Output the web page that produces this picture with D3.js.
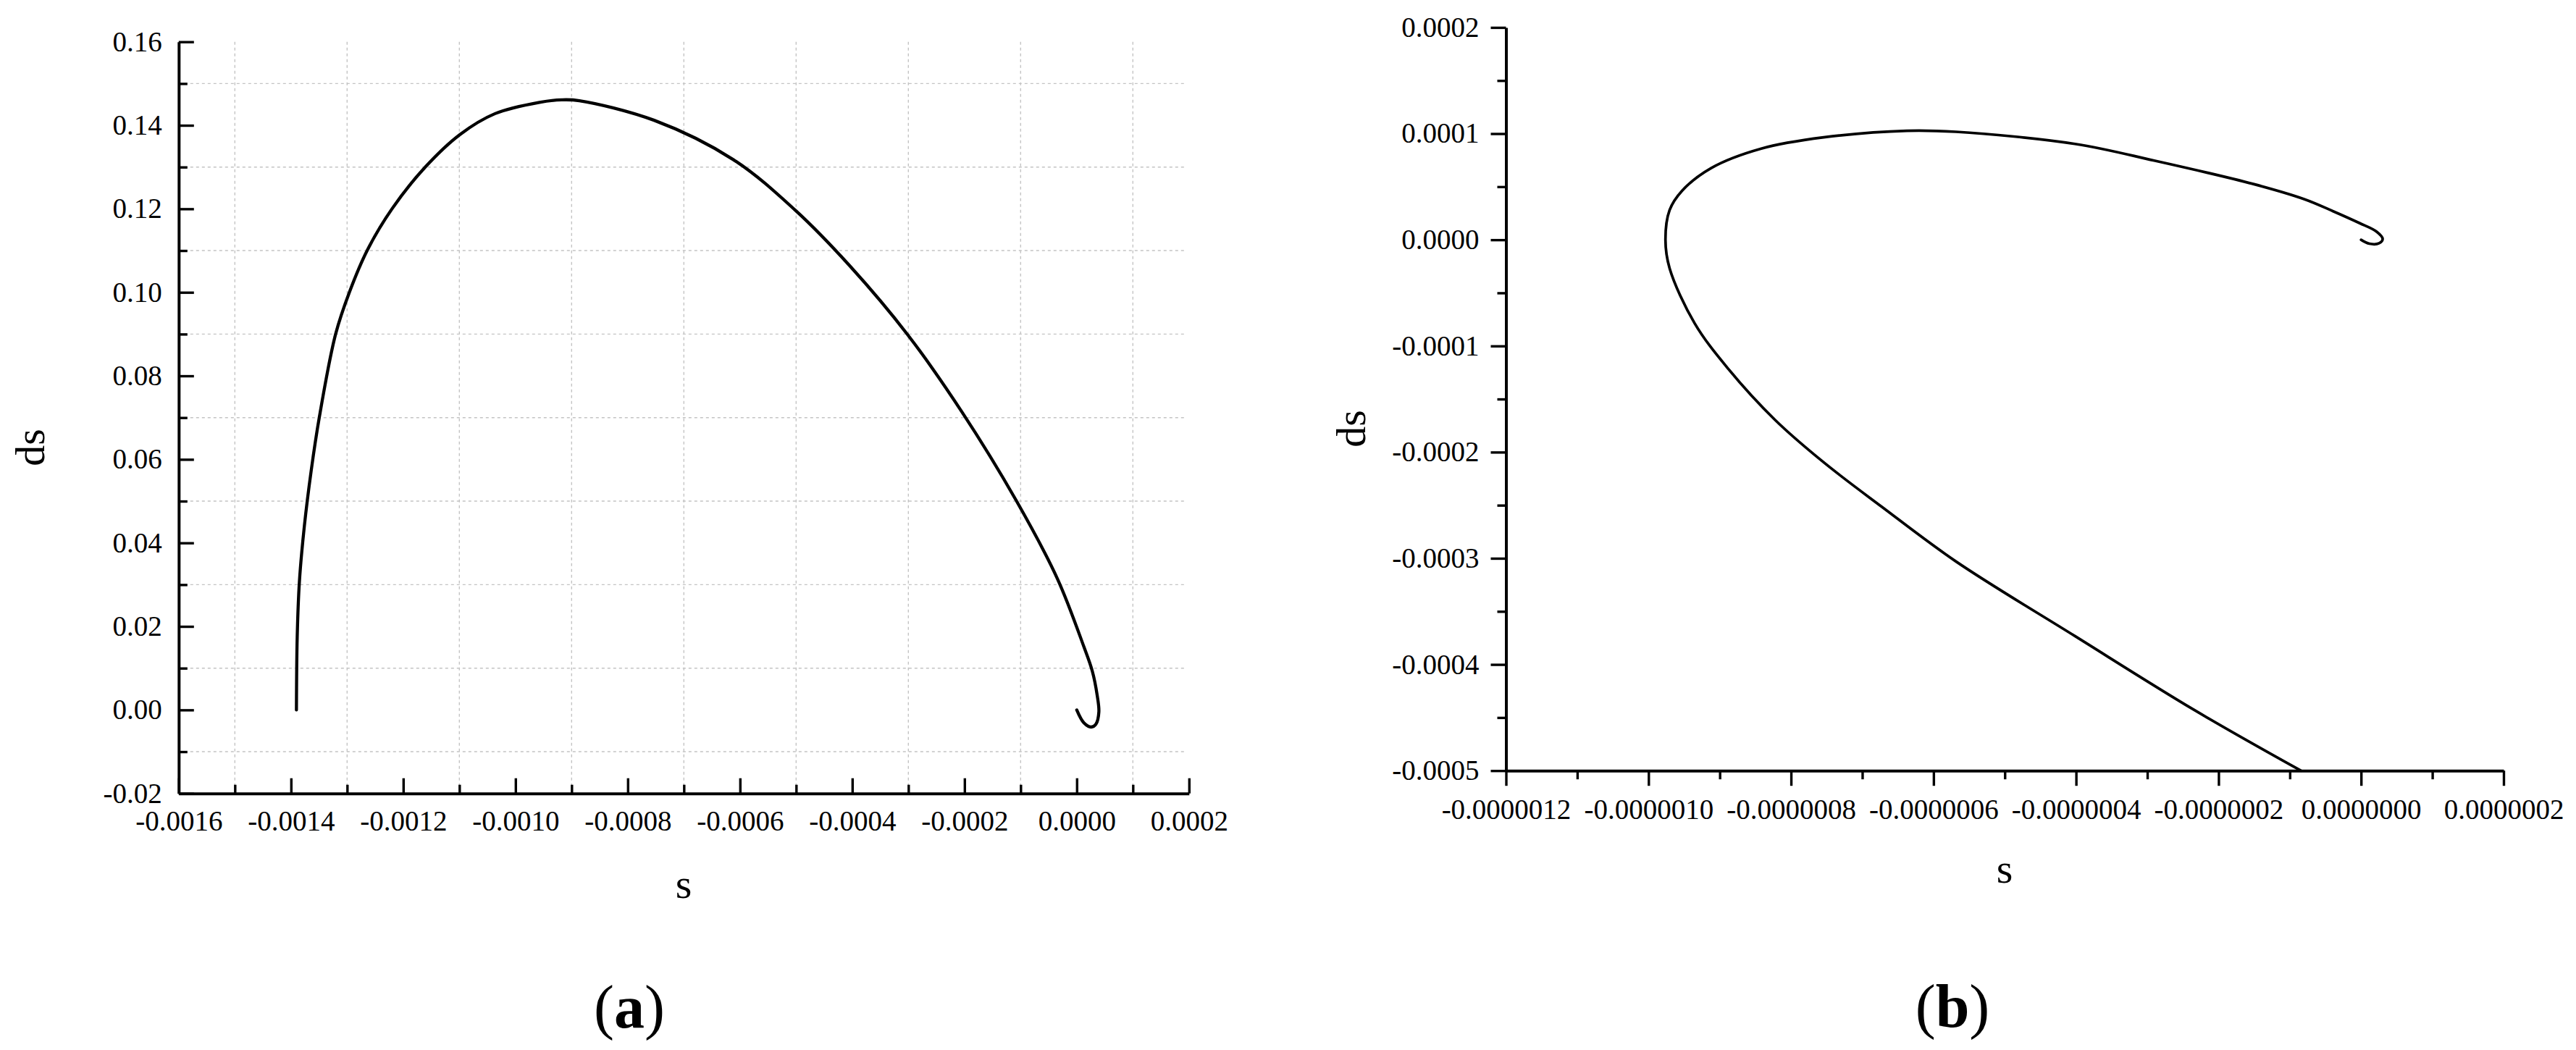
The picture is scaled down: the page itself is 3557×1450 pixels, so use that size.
<!DOCTYPE html>
<html>
<head>
<meta charset="utf-8">
<script src="https://cdn.jsdelivr.net/npm/d3@7"></script>
<style>
  body { margin: 0; background: #fff; }
  text { font-family: "Liberation Serif", "Times New Roman", serif; fill: #000; }
</style>
</head>
<body>
<script>
// panel (a): phase trajectory, s vs ds
const sA = [-0.0013903, -0.0013889, -0.0013850, -0.0013762, -0.0013640, -0.0013495, -0.0013205, -0.0012960,
    -0.0012640, -0.0012200, -0.0011614, -0.0010988, -0.0010363, -0.0009573, -0.0009178, -0.0008862,
    -0.0007529, -0.0006121, -0.0005010, -0.0004048, -0.0003010, -0.0002048, -0.0001085, -0.0000344,
    0.0000128, 0.0000277, 0.0000364, 0.0000394, 0.0000342, 0.0000257, 0.0000128, 0.0000000];
const dsA = [0.0000, 0.0175, 0.0307, 0.0440, 0.0573, 0.0701, 0.0900, 0.1000,
    0.1101, 0.1200, 0.1299, 0.1378, 0.1428, 0.1455, 0.1461, 0.1459,
    0.1412, 0.1318, 0.1196, 0.1064, 0.0898, 0.0714, 0.0503, 0.0314,
    0.0151, 0.0093, 0.0035, -0.0005, -0.0034, -0.0041, -0.0031, 0.0000];

const xTicksA = [-0.0016, -0.0014, -0.0012, -0.0010, -0.0008, -0.0006, -0.0004, -0.0002, 0.0000, 0.0002];
const xTickLabelsA = ["-0.0016", "-0.0014", "-0.0012", "-0.0010", "-0.0008", "-0.0006", "-0.0004", "-0.0002", "0.0000", "0.0002"];
const xMinorA = [-0.0015, -0.0013, -0.0011, -0.0009, -0.0007, -0.0005, -0.0003, -0.0001, 0.0001];
const yTicksA = [-0.02, 0.00, 0.02, 0.04, 0.06, 0.08, 0.10, 0.12, 0.14, 0.16];
const yTickLabelsA = ["-0.02", "0.00", "0.02", "0.04", "0.06", "0.08", "0.10", "0.12", "0.14", "0.16"];
const yMinorA = [-0.01, 0.01, 0.03, 0.05, 0.07, 0.09, 0.11, 0.13, 0.15];

// panel (b): zoom near the origin
const sB = [-0.0845e-6, -0.2346e-6, -0.4015e-6, -0.5685e-6, -0.6724e-6, -0.7542e-6, -0.8220e-6, -0.8885e-6,
    -0.9353e-6, -0.9704e-6, -0.9762e-6, -0.9704e-6, -0.9529e-6, -0.9120e-6, -0.8418e-6, -0.7542e-6,
    -0.6374e-6, -0.5685e-6, -0.4015e-6, -0.2903e-6, -0.1511e-6, -0.0799e-6, -0.0392e-6, -0.0018e-6,
    0.0219e-6, 0.0303e-6, 0.0253e-6, 0.0117e-6, 0.0000e-6];
const dsB = [-5.000e-4, -4.427e-4, -3.733e-4, -3.030e-4, -2.516e-4, -2.096e-4, -1.699e-4, -1.212e-4,
    -0.786e-4, -0.268e-4, 0.000e-4, 0.280e-4, 0.462e-4, 0.676e-4, 0.859e-4, 0.965e-4,
    1.027e-4, 1.017e-4, 0.903e-4, 0.746e-4, 0.525e-4, 0.383e-4, 0.269e-4, 0.156e-4,
    0.076e-4, 0.008e-4, -0.033e-4, -0.037e-4, 0.000e-4];

const xTicksB = [-1.2e-6, -1.0e-6, -0.8e-6, -0.6e-6, -0.4e-6, -0.2e-6, 0.0, 0.2e-6];
const xTickLabelsB = ["-0.0000012", "-0.0000010", "-0.0000008", "-0.0000006", "-0.0000004", "-0.0000002", "0.0000000", "0.0000002"];
const xMinorB = [-1.1e-6, -0.9e-6, -0.7e-6, -0.5e-6, -0.3e-6, -0.1e-6, 0.1e-6];
const yTicksB = [-0.0005, -0.0004, -0.0003, -0.0002, -0.0001, 0.0000, 0.0001, 0.0002];
const yTickLabelsB = ["-0.0005", "-0.0004", "-0.0003", "-0.0002", "-0.0001", "0.0000", "0.0001", "0.0002"];
const yMinorB = [-0.00045, -0.00035, -0.00025, -0.00015, -0.00005, 0.00005, 0.00015];

const svg = d3.select("body").append("svg")
    .attr("width", 3557)
    .attr("height", 1450)
    .style("display", "block");

svg.append("rect").attr("width", 3557).attr("height", 1450).attr("fill", "#fff");

function drawPanel(p) {
    var x = d3.scaleLinear().domain(p.xDomain).range(p.xRange);
    var y = d3.scaleLinear().domain(p.yDomain).range(p.yRange);
    var g = svg.append("g");

    // dashed grid at the minor positions (panel a only)
    if (p.grid) {
        g.selectAll(".gx").data(p.xMinor).enter().append("line")
            .attr("x1", d => x(d)).attr("x2", d => x(d))
            .attr("y1", p.yRange[1]).attr("y2", p.yRange[0])
            .attr("stroke", "#c4c4c4").attr("stroke-width", 1.4).attr("stroke-dasharray", "4,4");
        g.selectAll(".gy").data(p.yMinor).enter().append("line")
            .attr("x1", p.xRange[0]).attr("x2", p.xRange[1] - 4)
            .attr("y1", d => y(d)).attr("y2", d => y(d))
            .attr("stroke", "#c4c4c4").attr("stroke-width", 1.4).attr("stroke-dasharray", "4,4");
    }

    var sgn = p.inward ? -1 : 1;

    // minor ticks
    g.append("g")
        .attr("transform", "translate(0," + p.yRange[0] + ")")
        .call(d3.axisBottom(x).tickValues(p.xMinor).tickSize(sgn * 12).tickFormat(""))
        .call(a => a.select(".domain").remove());
    g.append("g")
        .attr("transform", "translate(" + p.xRange[0] + ",0)")
        .call(d3.axisLeft(y).tickValues(p.yMinor).tickSize(sgn * 12).tickFormat(""))
        .call(a => a.select(".domain").remove());

    // major ticks + labels
    var xa = g.append("g")
        .attr("transform", "translate(0," + p.yRange[0] + ")")
        .call(d3.axisBottom(x).tickValues(p.xTicks).tickSize(sgn * 21).tickSizeOuter(0)
            .tickPadding(p.xPad).tickFormat((d, i) => p.xLabels[i]));
    var ya = g.append("g")
        .attr("transform", "translate(" + p.xRange[0] + ",0)")
        .call(d3.axisLeft(y).tickValues(p.yTicks).tickSize(sgn * 21).tickSizeOuter(0)
            .tickPadding(p.yPad).tickFormat((d, i) => p.yLabels[i]));

    g.selectAll(".tick line").attr("stroke", "#000").attr("stroke-width", 3.4);
    [xa, ya].forEach(a => {
        a.select(".domain").attr("stroke", "#000").attr("stroke-width", 4);
        a.selectAll("text").attr("font-size", 39).attr("font-family", "Liberation Serif").attr("fill", "#000");
    });

    // trajectory
    var pts = p.sx.map((v, i) => [v, p.sy[i]]);
    var line = d3.line()
        .x(d => x(d[0]))
        .y(d => y(d[1]))
        .curve(d3.curveCatmullRom.alpha(0.5));
    g.append("path")
        .datum(pts)
        .attr("d", line)
        .attr("fill", "none")
        .attr("stroke", "#000")
        .attr("stroke-width", p.lineWidth)
        .attr("stroke-linecap", "round")
        .attr("stroke-linejoin", "round");

    // axis titles
    g.append("text")
        .attr("transform", "translate(" + p.ylabPos[0] + "," + p.ylabPos[1] + ") rotate(-90)")
        .attr("text-anchor", "middle")
        .attr("font-size", 58)
        .text("ds");
    g.append("text")
        .attr("x", p.xlabPos[0]).attr("y", p.xlabPos[1])
        .attr("text-anchor", "middle")
        .attr("font-size", 58)
        .text("s");

    // panel letter
    var t = g.append("text")
        .attr("x", p.tagPos[0]).attr("y", p.tagPos[1])
        .attr("text-anchor", "middle")
        .attr("font-size", 84);
    t.append("tspan").text("(");
    t.append("tspan").attr("font-weight", "bold").text(p.tag);
    t.append("tspan").text(")");
}

drawPanel({
    sx: sA, sy: dsA,
    xDomain: [-0.0016, 0.0002], xRange: [246.8, 1641.8],
    yDomain: [-0.02, 0.16], yRange: [1095.7, 57.7],
    xTicks: xTicksA, xLabels: xTickLabelsA, xMinor: xMinorA,
    yTicks: yTicksA, yLabels: yTickLabelsA, yMinor: yMinorA,
    inward: true, grid: true,
    xPad: 24, yPad: 23,
    lineWidth: 4.3,
    ylabPos: [61, 618], xlabPos: [944, 1240],
    tagPos: [869, 1419], tag: "a"
});

drawPanel({
    sx: sB, sy: dsB,
    xDomain: [-1.2e-6, 0.2e-6], xRange: [2079.5, 3457],
    yDomain: [-0.0005, 0.0002], yRange: [1064.2, 37.9],
    xTicks: xTicksB, xLabels: xTickLabelsB, xMinor: xMinorB,
    yTicks: yTicksB, yLabels: yTickLabelsB, yMinor: yMinorB,
    inward: false, grid: false,
    xPad: 18, yPad: 16,
    lineWidth: 3.7,
    ylabPos: [1885, 592], xlabPos: [2768, 1219],
    tagPos: [2696, 1418], tag: "b"
});
</script>
</body>
</html>
